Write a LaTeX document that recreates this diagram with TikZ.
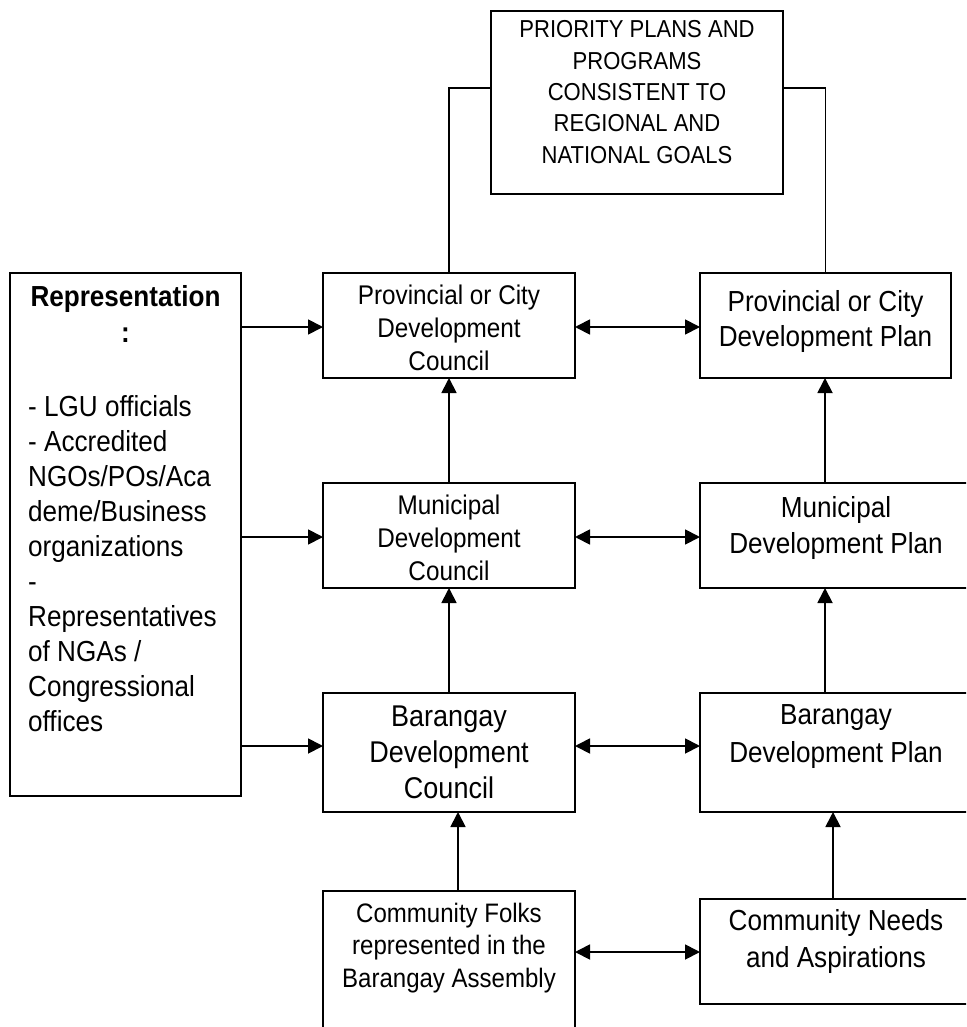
\documentclass[tikz,border=0pt]{standalone}
\usepackage{fontspec}
\setmainfont[FakeStretch=0.9]{Liberation Sans}
\usetikzlibrary{arrows.meta}
\newcommand\tlines[4][c]{\fontsize{#2}{#3}\selectfont\begin{tabular}[t]{@{}#1@{}}#4\end{tabular}}
\begin{document}
\begin{tikzpicture}[x=1pt,y=-1pt,
  box/.style={draw, line width=1.8pt, inner sep=0pt, outer sep=0pt, anchor=north west},
  lbl/.style={anchor=base, inner sep=0pt},
  conn/.style={line width=1.8pt},
  arr/.style={line width=1.8pt, -{Triangle[length=15pt,width=15pt]}},
  barr/.style={line width=1.8pt, {Triangle[length=15pt,width=15pt]}-{Triangle[length=15pt,width=15pt]}}]
\useasboundingbox (0,0) rectangle (966,1027);
\fill[white] (0,0) rectangle (966,1027);
\begin{scope}
\clip (0,0) rectangle (966,1027);
% boxes
\node[box, minimum width=292pt, minimum height=183pt] (tb) at (491,11) {};
\node[box, minimum width=231pt, minimum height=523pt] (rep) at (10,273) {};
\node[box, minimum width=252pt, minimum height=105pt] (pcc) at (323,273) {};
\node[box, minimum width=252pt, minimum height=105pt] (mdc) at (323,483) {};
\node[box, minimum width=252pt, minimum height=119pt] (bdc) at (323,693) {};
\node[box, minimum width=252pt, minimum height=160pt] (cf) at (323,891) {};
\node[box, minimum width=251pt, minimum height=105pt] (pcp) at (700,273) {};
\node[box, minimum width=272pt, minimum height=105pt] (mdp) at (700,483) {};
\node[box, minimum width=272pt, minimum height=119pt] (bdp) at (700,693) {};
\node[box, minimum width=272pt, minimum height=105pt] (cna) at (700,899) {};
% texts
\node[lbl] (tbt) at (637,38) {\tlines{24.5}{31.3}{PRIORITY PLANS AND\\PROGRAMS\\CONSISTENT TO\\REGIONAL AND\\NATIONAL GOALS}};
\node[lbl] (pcct) at (449,304) {\tlines{27}{33}{Provincial or City\\Development\\Council}};
\node[lbl] (pcpt) at (825.5,311) {\tlines{29}{35}{Provincial or City\\Development Plan}};
\node[lbl] (mdct) at (449,514) {\tlines{27}{33}{Municipal\\Development\\Council}};
\node[lbl] (mdpt) at (836,517) {\tlines{29}{36}{Municipal\\Development Plan}};
\node[lbl] (bdct) at (449,726) {\tlines{30}{36}{Barangay\\Development\\Council}};
\node[lbl] (bdpt) at (836,724) {\tlines{29}{38}{Barangay\\Development Plan}};
\node[lbl] (cft) at (449,922) {\tlines{26.7}{32.5}{Community Folks\\represented in the\\Barangay Assembly}};
\node[lbl] (cnat) at (836,930) {\tlines{29}{37}{Community Needs\\and Aspirations}};
\node[lbl] (rept) at (125.5,306) {\bfseries\tlines{29}{36}{Representation\\:}};
\node[lbl, anchor=base west] (repl) at (28,416) {\tlines[l]{29}{35.1}{- LGU officials\\- Accredited\\NGOs/POs/Aca\\deme/Business\\organizations\\-\\Representatives\\of NGAs /\\Congressional\\offices}};
% helper coordinates
\coordinate (h1) at (0,327);
\coordinate (h2) at (0,537);
\coordinate (h3) at (0,746);
\coordinate (h4) at (0,952);
\coordinate (ht) at (0,88);
\coordinate (v1) at (458,0);
\coordinate (v2) at (825,0);
\coordinate (v3) at (833,0);
% connectors
\draw[conn] (tb.west |- ht) -| (pcc.north);
\draw[conn] (tb.east |- ht) -| (pcp.north);
\draw[arr] (rep.east |- h1) -- (pcc.west |- h1);
\draw[arr] (rep.east |- h2) -- (mdc.west |- h2);
\draw[arr] (rep.east |- h3) -- (bdc.west |- h3);
\draw[barr] (pcc.east |- h1) -- (pcp.west |- h1);
\draw[barr] (mdc.east |- h2) -- (mdp.west |- h2);
\draw[barr] (bdc.east |- h3) -- (bdp.west |- h3);
\draw[barr] (cf.east |- h4) -- (cna.west |- h4);
\draw[arr] (mdc.north) -- (pcc.south);
\draw[arr] (bdc.north) -- (mdc.south);
\draw[arr] (cf.north -| v1) -- (bdc.south -| v1);
\draw[arr] (mdp.north -| v2) -- (pcp.south -| v2);
\draw[arr] (bdp.north -| v2) -- (mdp.south -| v2);
\draw[arr] (cna.north -| v3) -- (bdp.south -| v3);
\end{scope}
\end{tikzpicture}
\end{document}
